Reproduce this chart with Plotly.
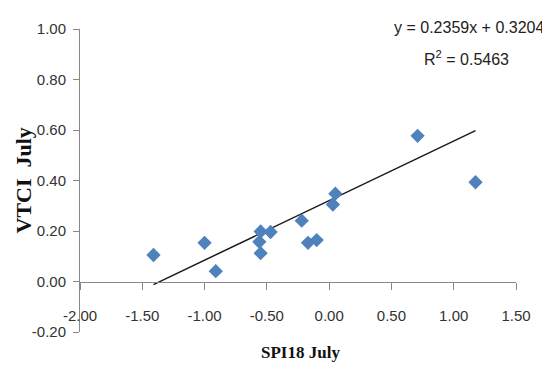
import plotly.graph_objects as go

# Data
spi18_july = [-1.41, -1.00, -0.91, -0.55, -0.56, -0.55, -0.47, -0.22, -0.17, -0.10, 0.05, 0.03, 0.71, 1.175]
vtci_july = [0.105, 0.153, 0.041, 0.198, 0.157, 0.112, 0.196, 0.241, 0.153, 0.164, 0.348, 0.305, 0.577, 0.393]
slope = 0.2359
intercept = 0.3204
r_squared = 0.5463
x_ticks = [-2.0, -1.5, -1.0, -0.5, 0.0, 0.5, 1.0, 1.5]
y_ticks = [-0.2, 0.0, 0.2, 0.4, 0.6, 0.8, 1.0]

sans = "Liberation Sans, Arial, sans-serif"
serif = "Liberation Serif, Times New Roman, serif"

xmin, xmax = min(spi18_july), max(spi18_july)
trend_x = [xmin, xmax]
trend_y = [slope * v + intercept for v in trend_x]

fig = go.Figure()
fig.add_trace(go.Scatter(
    x=trend_x, y=trend_y, mode="lines",
    line=dict(color="#1a1a1a", width=1.5), showlegend=False, hoverinfo="skip"))
fig.add_trace(go.Scatter(
    x=spi18_july, y=vtci_july, mode="markers",
    marker=dict(symbol="diamond", size=11, color="#4F81BD"), showlegend=False))

# page body has an 8px margin, so the figure is sized 8px smaller
fig.update_layout(
    width=542, height=359,
    margin=dict(l=72, r=34, t=14, b=35),
    paper_bgcolor="white", plot_bgcolor="white",
    xaxis=dict(
        range=[-2.0, 1.5], tickvals=x_ticks, ticktext=[f"{v:.2f}" for v in x_ticks],
        showgrid=False, zeroline=False, showline=True, linecolor="#888888", linewidth=1,
        ticks="outside", ticklen=7, tickcolor="#888888",
        anchor="free", position=0.2 / 1.2, ticklabelstandoff=13,
        tickfont=dict(family=sans, size=15, color="#333333"),
    ),
    yaxis=dict(
        range=[-0.2, 1.0], tickvals=y_ticks, ticktext=[f"{v:.2f}" for v in y_ticks],
        showgrid=False, zeroline=False, showline=True, linecolor="#888888", linewidth=1,
        ticks="outside", ticklen=6, tickcolor="#888888", ticklabelstandoff=4,
        tickfont=dict(family=sans, size=15, color="#333333"),
    ),
    annotations=[
        dict(text="SPI18 July", xref="paper", yref="paper", x=(300 - 80) / 436, y=(332 - 353) / 310,
             showarrow=False, font=dict(family=serif, size=17, color="#111111", weight="bold"),
             xanchor="center", yanchor="middle"),
        dict(text="VTCI&nbsp; July", xref="paper", yref="paper", x=(23 - 80) / 436, y=(332 - 177) / 310,
             showarrow=False, textangle=-90, font=dict(family=serif, size=22, color="#111111", weight="bold"),
             xanchor="center", yanchor="middle"),
        dict(text=f"y = {slope}x + {intercept}", xref="paper", yref="paper", x=(469 - 80) / 436, y=(332 - 20) / 310,
             showarrow=False, font=dict(family=sans, size=16, color="#222222"), xanchor="center", yanchor="middle"),
        dict(text=f"R<sup>2</sup> = {r_squared}", xref="paper", yref="paper", x=(466 - 80) / 436, y=(332 - 52) / 310,
             showarrow=False, font=dict(family=sans, size=16, color="#222222"), xanchor="center", yanchor="middle"),
    ],
)

fig.write_html("out.html")
